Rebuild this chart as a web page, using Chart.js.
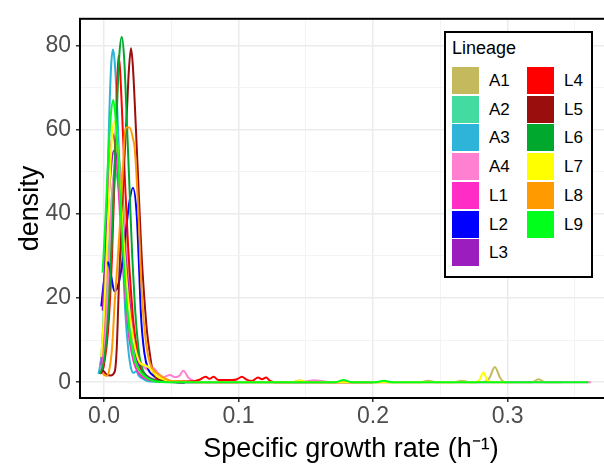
<!DOCTYPE html>
<html>
<head>
<meta charset="utf-8">
<script src="https://cdn.jsdelivr.net/npm/chart.js@4.4.1/dist/chart.umd.min.js"></script>
<style>
  body { margin: 0; background: #fff; overflow: hidden; font-family: "Liberation Sans", Arial, sans-serif; }
  #wrap { position: relative; width: 604px; height: 466px; overflow: hidden; }
  #legend { position: absolute; left: 444px; top: 31px; width: 145px; height: 243px; border: 2px solid #000; background: #fff; }
  #legend .title { position: absolute; left: 6px; top: 5px; font-size: 18px; color: #000; }
  #legend .sw { position: absolute; width: 27px; height: 27px; }
  #legend .lab { position: absolute; font-size: 17px; color: #000; line-height: 27px; }
</style>
</head>
<body>
<div id="wrap">
  <canvas id="chart" width="624" height="466"></canvas>
  <div id="legend"><div class="title">Lineage</div></div>
</div>
<script>
// density curves, [growth rate, density]
var A1 = [[-0.002,2],[0,6],[0.003,18],[0.006,36],[0.008,48],[0.0105,54],[0.013,48],[0.016,36],[0.019,22],[0.022,12],[0.025,6],[0.028,3],[0.032,1.5],[0.038,0.6],[0.045,0.2],[0.06,0],
  [0.235,0],[0.241,0.35],[0.247,0],[0.26,0],[0.266,0.35],[0.272,0],[0.283,0.1],[0.2865,1],[0.2905,3.6],[0.2945,1],[0.298,0],[0.318,0],[0.323,0.7],[0.328,0],[0.34,0]]
var A2 = [[-0.003,4],[-0.001,7],[0.002,20],[0.005,40],[0.008,50],[0.011,46],[0.014,34],[0.017,20],[0.02,11],[0.023,6],[0.026,3],[0.03,1.2],[0.035,0.5],[0.045,0.1],[0.06,0],[0.2,0]]
var A3 = [[-0.004,2],[-0.002,6],[0,18],[0.002,40],[0.004,64],[0.0055,76],[0.0068,79],[0.008,76],[0.01,64],[0.012,47],[0.014,30],[0.016,16],[0.018,8],[0.02,3.5],[0.022,2.2],[0.024,2.6],[0.026,1.5],[0.028,1],[0.032,0.3],[0.04,0.1],[0.06,0]]
var A4 = [[-0.002,3],[0,8],[0.003,24],[0.006,44],[0.009,53],[0.012,49],[0.015,37],[0.018,24],[0.021,14],[0.024,8],[0.027,5],[0.03,3.5],[0.033,3],[0.0367,3.4],[0.04,2.2],[0.044,1.2],[0.049,1.7],[0.053,1.2],[0.056,1.5],[0.059,2.7],[0.063,1],[0.068,0.2],[0.08,0],
  [0.14,0],[0.145,0.4],[0.15,0.2],[0.156,0.45],[0.162,0.3],[0.168,0],[0.362,0]]
var L1 = [[-0.002,4],[0,14],[0.002,32],[0.004,50],[0.0065,59],[0.009,54],[0.011,45],[0.013,34],[0.015,24],[0.017,16],[0.019,10],[0.022,5],[0.025,2.5],[0.03,1],[0.035,0.4],[0.045,0.1],[0.06,0],[0.1,0]]
var L2 = [[-0.002,18],[0,24],[0.003,28.5],[0.0055,25],[0.0077,21.6],[0.01,22.5],[0.013,27],[0.016,35],[0.019,43],[0.0215,46.2],[0.0243,40],[0.026,28],[0.0275,16],[0.03,7],[0.033,3],[0.037,1.5],[0.042,0.5],[0.05,0.1],[0.06,0]]
var L3 = [[-0.001,17],[0.001,30],[0.004,46],[0.0075,55],[0.0105,52],[0.013,42],[0.016,30],[0.019,19],[0.022,10],[0.025,5],[0.028,3],[0.032,1.5],[0.037,0.6],[0.045,0.1],[0.06,0]]
var L4 = [[-0.002,2],[0,4],[0.003,12],[0.006,30],[0.008,50],[0.0095,68],[0.0108,77.5],[0.012,74],[0.014,60],[0.016,45],[0.018,32],[0.02,22],[0.022,14],[0.025,7],[0.028,3],[0.031,1.5],[0.035,0.5],[0.05,0.2],[0.065,0.2],
  [0.071,0.6],[0.0755,1.3],[0.0785,0.8],[0.0815,1.3],[0.085,0.5],[0.095,0.5],[0.099,0.7],[0.1025,1.3],[0.106,0.6],[0.11,0.3],[0.1145,1.1],[0.1175,0.7],[0.1205,1.1],[0.1235,0.3],[0.127,0],[0.2,0]]
var L5 = [[-0.003,2],[-0.001,2.8],[0.002,1.8],[0.005,1.6],[0.008,2.5],[0.0095,8],[0.011,22],[0.013,38],[0.015,52],[0.017,64],[0.0185,74],[0.0201,79.3],[0.0215,75],[0.0235,62],[0.026,44],[0.028,30],[0.03,20],[0.032,12],[0.034,7],[0.036,3],[0.038,1.5],[0.042,0.5],[0.05,0.1],[0.06,0]]
var L6 = [[-0.003,2],[0,5],[0.003,15],[0.006,35],[0.008,52],[0.01,68],[0.0115,78],[0.0132,82],[0.015,77],[0.017,62],[0.019,46],[0.021,30],[0.023,18],[0.025,10],[0.027,5],[0.03,2],[0.033,1],[0.037,0.5],[0.04,0.2],[0.06,0]]
var L7 = [[-0.002,6],[0,16],[0.003,38],[0.0055,56],[0.0075,62],[0.0095,58],[0.012,46],[0.015,32],[0.018,20],[0.021,12],[0.024,7],[0.027,4.5],[0.031,4],[0.035,3],[0.039,1.5],[0.045,0.6],[0.05,0.3],[0.06,0.1],[0.08,0],
  [0.14,0],[0.146,0.4],[0.152,0],[0.275,0],[0.279,0.5],[0.282,2.3],[0.285,0.4],[0.289,0],[0.3,0]]
var L8 = [[-0.001,2],[0.002,1.5],[0.004,3],[0.006,8],[0.008,19],[0.01,28],[0.012,38],[0.014,50],[0.0155,59],[0.0165,60.5],[0.019,60.5],[0.0215,58],[0.023,55],[0.0255,41],[0.0283,20],[0.031,10],[0.034,4.7],[0.038,2.5],[0.042,1.6],[0.046,0.8],[0.05,0.3],[0.06,0.1],[0.07,0]]
var L9 = [[-0.001,26],[0.001,38],[0.003,52],[0.005,63],[0.007,67],[0.009,61],[0.011,50],[0.013,38],[0.015,27],[0.017,18],[0.019,12],[0.021,8],[0.023,5],[0.026,3],[0.03,1.5],[0.035,0.5],[0.04,0.1],[0.05,0],
  [0.172,0],[0.178,0.5],[0.184,0],[0.202,0],[0.208,0.35],[0.214,0],[0.36,0]]

var lineages = ['A1','A2','A3','A4','L1','L2','L3','L4','L5','L6','L7','L8','L9']
var curves = [A1, A2, A3, A4, L1, L2, L3, L4, L5, L6, L7, L8, L9]
var colours = ['#C4B95C','#44DBA0','#2EB4D9','#FF80D0','#FF2DC6','#0000FF','#9B1DBD','#FF0000','#9B0E0E','#00A82D','#FFFF00','#FF9A00','#00FF1A']

// grid positions (labels only on the major ones)
var xTicks = [0, 0.05, 0.1, 0.15, 0.2, 0.25, 0.3, 0.35]
var yTicks = [0, 10, 20, 30, 40, 50, 60, 70, 80]

var xMin = -0.0178, xMax = 0.385
var yMin = -3.75, yMax = 86.3

function isMajor(v, step) {
    let r = v / step
    return Math.abs(r - Math.round(r)) < 1e-6
}

// full black box round the panel
var panelBox = {
    id: 'panelBox',
    afterDraw(chart) {
        let a = chart.chartArea, ctx = chart.ctx
        ctx.save()
        ctx.strokeStyle = '#000'
        ctx.lineWidth = 2
        ctx.strokeRect(a.left, a.top, a.right - a.left, a.bottom - a.top)
        ctx.restore()
    }
}

var ctx = document.getElementById('chart').getContext('2d')
new Chart(ctx, {
    type: 'line',
    data: {
        datasets: curves.map((c, i) => ({
            label: lineages[i],
            data: c.map(p => ({x: p[0], y: p[1]})),
            borderColor: colours[i],
            backgroundColor: colours[i],
            borderWidth: 2,
            pointRadius: 0,
            cubicInterpolationMode: 'monotone',
            order: curves.length - i
        }))
    },
    options: {
        responsive: false,
        animation: false,
        layout: {padding: {top: 14, right: 2, left: 0, bottom: 0}},
        plugins: {legend: {display: false}, tooltip: {enabled: false}},
        scales: {
            x: {
                type: 'linear',
                min: xMin,
                max: xMax,
                afterBuildTicks: s => { s.ticks = xTicks.map(v => ({value: v})) },
                afterFit: s => { s.height = 68 },
                border: {display: false},
                grid: {
                    color: c => isMajor(c.tick.value, 0.1) ? '#EBEBEB' : '#F3F3F3',
                    lineWidth: c => isMajor(c.tick.value, 0.1) ? 1.5 : 1,
                    tickColor: c => isMajor(c.tick.value, 0.1) ? '#333' : 'rgba(0,0,0,0)',
                    tickLength: 4
                },
                ticks: {
                    maxRotation: 0,
                    autoSkip: false,
                    padding: 1,
                    color: '#4D4D4D',
                    font: {family: 'Liberation Sans', size: 23},
                    callback: v => isMajor(v, 0.1) ? v.toFixed(1) : ''
                },
                title: {
                    display: true,
                    text: 'Specific growth rate (h\u207B\u00B9)',
                    color: '#000',
                    font: {family: 'Liberation Sans', size: 27},
                    padding: {top: 0, bottom: 0}
                }
            },
            y: {
                min: yMin,
                max: yMax,
                afterBuildTicks: s => { s.ticks = yTicks.map(v => ({value: v})) },
                afterFit: s => { s.width = 80 },
                border: {display: false},
                grid: {
                    color: c => isMajor(c.tick.value, 20) ? '#EBEBEB' : '#F3F3F3',
                    lineWidth: c => isMajor(c.tick.value, 20) ? 1.5 : 1,
                    tickColor: c => isMajor(c.tick.value, 20) ? '#333' : 'rgba(0,0,0,0)',
                    tickLength: 4
                },
                ticks: {
                    autoSkip: false,
                    padding: 5,
                    color: '#4D4D4D',
                    font: {family: 'Liberation Sans', size: 23},
                    callback: v => isMajor(v, 20) ? String(v) : ''
                },
                title: {
                    display: true,
                    text: 'density',
                    color: '#000',
                    font: {family: 'Liberation Sans', size: 27},
                    padding: {top: 14, bottom: 0}
                }
            }
        }
    },
    plugins: [panelBox]
})

// legend: two columns, filled top to bottom
var legend = document.getElementById('legend')
lineages.forEach((name, i) => {
    let col = i < 7 ? 0 : 1
    let row = i < 7 ? i : i - 7
    let top = 34 + row * 28.7
    let sw = document.createElement('div')
    sw.className = 'sw'
    sw.style.background = colours[i]
    sw.style.left = (6 + col * 75) + 'px'
    sw.style.top = top + 'px'
    legend.appendChild(sw)
    let lab = document.createElement('div')
    lab.className = 'lab'
    lab.textContent = name
    lab.style.left = (43 + col * 75) + 'px'
    lab.style.top = top + 'px'
    legend.appendChild(lab)
})
</script>
</body>
</html>
